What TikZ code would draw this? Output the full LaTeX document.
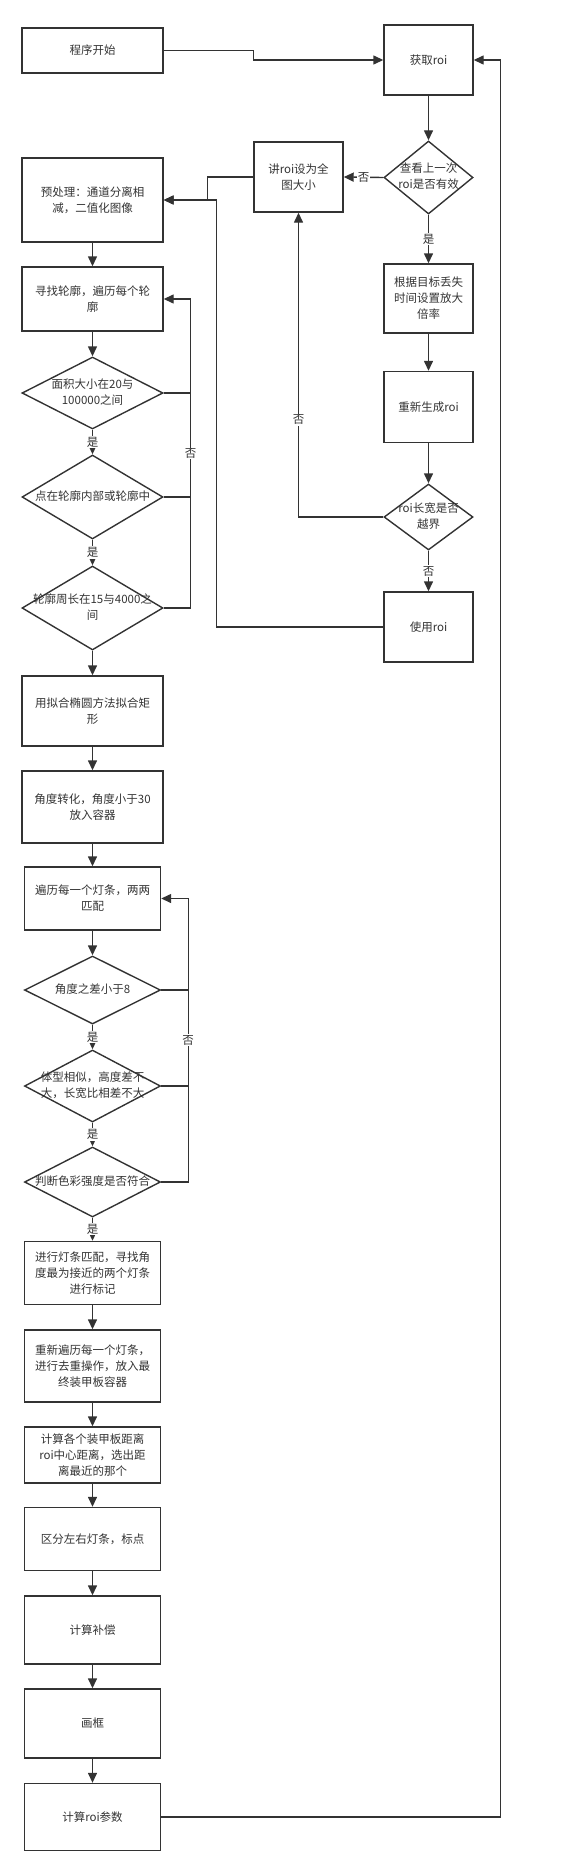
\documentclass[tikz,border=0pt]{standalone}
\usepackage{fontspec}
\setmainfont{Noto Sans CJK SC}
\usetikzlibrary{arrows.meta, shapes.geometric}
\definecolor{ink}{HTML}{333333}
\newcommand{\condtext}[1]{\makebox[0pt]{\begin{tabular}{@{}c@{}}#1\end{tabular}}}
\tikzset{box/.style = {draw, rectangle, align = center, inner sep = 2pt}}
\tikzset{decision/.style = {draw, diamond, inner sep = 0pt}}
\tikzset{lab/.style = {fill = white, inner sep = 1pt}}

\begin{document}
\begin{tikzpicture}[x = 1pt, y = -1pt, color = ink, line width = 1.4pt,
    font = \fontsize{11.5}{16}\selectfont, >={Triangle[length=10pt, width=9pt]}]
    \useasboundingbox (0,0) rectangle (585,1876);
    \node[box, minimum width=141pt, minimum height=45pt] (start) at (92.5,50.5) {程序开始};
    \node[box, minimum width=89pt, minimum height=70pt] (getroi) at (428.5,60) {获取roi};
    \node[decision, minimum width=89pt, minimum height=73pt] (check) at (428.5,177.5) {\condtext{查看上一次\\roi是否有效}};
    \node[box, minimum width=89pt, minimum height=70pt] (fullroi) at (298.5,177) {讲roi设为全\\图大小};
    \node[box, minimum width=89pt, minimum height=69pt] (rate) at (428.5,298.5) {根据目标丢失\\时间设置放大\\倍率};
    \node[box, minimum width=89pt, minimum height=71pt] (regen) at (428.5,407) {重新生成roi};
    \node[decision, minimum width=89pt, minimum height=66pt] (bound) at (428.5,517) {\condtext{roi长宽是否\\越界}};
    \node[box, minimum width=89pt, minimum height=70pt] (useroi) at (428.5,627) {使用roi};
    \node[box, minimum width=141pt, minimum height=84pt] (pre) at (92.5,200) {预处理：通道分离相\\减，二值化图像};
    \node[box, minimum width=141pt, minimum height=64pt] (contour) at (92.5,299) {寻找轮廓，遍历每个轮\\廓};
    \node[decision, minimum width=141pt, minimum height=72pt] (area) at (92.5,393) {\condtext{面积大小在20与\\100000之间}};
    \node[decision, minimum width=141pt, minimum height=84pt] (inside) at (92.5,497) {\condtext{点在轮廓内部或轮廓中}};
    \node[decision, minimum width=141pt, minimum height=84pt] (perim) at (92.5,608) {\condtext{轮廓周长在15与4000之\\间}};
    \node[box, minimum width=141pt, minimum height=70pt] (fit) at (92.5,711) {用拟合椭圆方法拟合矩\\形};
    \node[box, minimum width=141pt, minimum height=72pt] (angle) at (92.5,807) {角度转化，角度小于30\\放入容器};
    \node[box, minimum width=136pt, minimum height=63pt] (pair) at (92.5,898.5) {遍历每一个灯条，两两\\匹配};
    \node[decision, minimum width=136pt, minimum height=68pt] (diff) at (92.5,990) {\condtext{角度之差小于8}};
    \node[decision, minimum width=136pt, minimum height=72pt] (shape) at (92.5,1086) {\condtext{体型相似，高度差不\\大，长宽比相差不大}};
    \node[decision, minimum width=136pt, minimum height=70pt] (colour) at (92.5,1182) {\condtext{判断色彩强度是否符合}};
    \node[box, minimum width=136pt, minimum height=63pt] (match) at (92.5,1273) {进行灯条匹配，寻找角\\度最为接近的两个灯条\\进行标记};
    \node[box, minimum width=136pt, minimum height=72pt] (dedup) at (92.5,1366) {重新遍历每一个灯条，\\进行去重操作，放入最\\终装甲板容器};
    \node[box, minimum width=136pt, minimum height=56pt] (dist) at (92.5,1455) {计算各个装甲板距离\\roi中心距离，选出距\\离最近的那个};
    \node[box, minimum width=136pt, minimum height=63pt] (split) at (92.5,1539) {区分左右灯条，标点};
    \node[box, minimum width=136pt, minimum height=68pt] (comp) at (92.5,1630) {计算补偿};
    \node[box, minimum width=136pt, minimum height=69pt] (frame) at (92.5,1723.5) {画框};
    \node[box, minimum width=136pt, minimum height=67pt] (param) at (92.5,1817) {计算roi参数};
    \draw[->] (start.east) -- ++(90,0) |- (getroi.west);
    \draw[->] (getroi) -- (check);
    \draw[->] (check.west) -- (fullroi.east) node[lab, midway] {否};
    \draw[->] (fullroi.west) -- ++(-46,0) |- (pre.east);
    \draw[->] (check.south) -- (rate.north) node[lab, midway] {是};
    \draw[->] (rate) -- (regen);
    \draw[->] (regen) -- (bound);
    \draw[->] (bound.west) -| (fullroi.south) node[lab, pos=0.66] {否};
    \draw[->] (bound.south) -- (useroi.north) node[lab, midway] {否};
    \draw[->] (useroi.west) -- ++(-167,0) |- (pre.east);
    \draw[->] (param.east) -- ++(339,0) |- (getroi.east);
    \draw[->] (pre) -- (contour);
    \draw[->] (contour) -- (area);
    \draw[->] (area.south) -- (inside.north) node[lab, midway] {是};
    \draw[->] (inside.south) -- (perim.north) node[lab, midway] {是};
    \draw[->] (perim) -- (fit);
    \draw (area.east) -- ++(27,0);
    \draw (inside.east) -- ++(27,0);
    \draw[->] (perim.east) -- ++(27,0) |- (contour.east) node[lab, pos=0.25] {否};
    \draw[->] (fit) -- (angle);
    \draw[->] (angle) -- (pair);
    \draw[->] (pair) -- (diff);
    \draw[->] (diff.south) -- (shape.north) node[lab, midway] {是};
    \draw[->] (shape.south) -- (colour.north) node[lab, midway] {是};
    \draw[->] (colour.south) -- (match.north) node[lab, midway] {是};
    \draw (diff.east) -- ++(27,0);
    \draw (shape.east) -- ++(27,0);
    \draw[->] (colour.east) -- ++(27,0) |- (pair.east) node[lab, pos=0.25] {否};
    \draw[->] (match) -- (dedup);
    \draw[->] (dedup) -- (dist);
    \draw[->] (dist) -- (split);
    \draw[->] (split) -- (comp);
    \draw[->] (comp) -- (frame);
    \draw[->] (frame) -- (param);
\end{tikzpicture}
\end{document}
